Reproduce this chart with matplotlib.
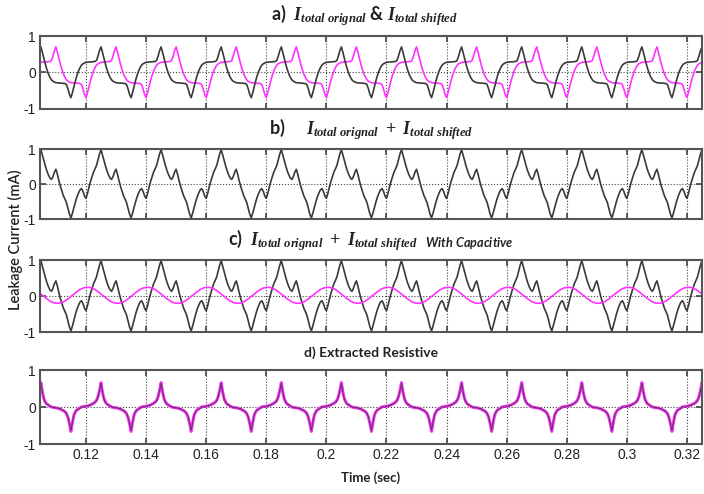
import numpy as np
import matplotlib
matplotlib.use('Agg')
import matplotlib.pyplot as plt

# one 20 ms period of each waveform, sampled every 0.5 ms,
# starting at the negative spike of the original current (t = 0.115 s)
STEP = 0.0005
T_START = 0.095
PERIODS = 12
SHIFT_SAMPLES = 10   # 5 ms shift of the second current

i_orig = [-0.69, -0.55, -0.38, -0.22, -0.08, 0.04, 0.13, 0.20, 0.24, 0.26,
          0.28, 0.28, 0.29, 0.29, 0.29, 0.30, 0.30, 0.33, 0.45, 0.60,
          0.70, 0.55, 0.38, 0.22, 0.08, -0.04, -0.13, -0.20, -0.24, -0.26,
          -0.28, -0.28, -0.29, -0.29, -0.29, -0.30, -0.30, -0.33, -0.45, -0.60]

i_cap = [-0.01, 0.02, 0.05, 0.09, 0.12, 0.15, 0.18, 0.20, 0.22, 0.23,
         0.24, 0.24, 0.24, 0.23, 0.22, 0.20, 0.18, 0.15, 0.12, 0.09,
         0.05, 0.02, -0.01, -0.05, -0.08, -0.11, -0.14, -0.16, -0.18, -0.19,
         -0.20, -0.20, -0.20, -0.19, -0.18, -0.16, -0.14, -0.11, -0.08, -0.05]

i_res = [-0.66, -0.42, -0.22, -0.13, -0.08, -0.05, -0.02, 0.00, 0.01, 0.02,
         0.02, 0.03, 0.04, 0.06, 0.08, 0.10, 0.13, 0.18, 0.28, 0.45,
         0.66, 0.40, 0.22, 0.13, 0.08, 0.05, 0.02, 0.00, -0.01, -0.02,
         -0.02, -0.03, -0.04, -0.06, -0.08, -0.10, -0.13, -0.18, -0.28, -0.45]

i_res_black = [-0.64, -0.40, -0.20, -0.12, -0.07, -0.06, -0.04, 0.01, 0.00, -0.01,
               0.03, 0.02, 0.05, 0.04, 0.08, 0.09, 0.13, 0.17, 0.27, 0.44,
               0.64, 0.40, 0.21, 0.12, 0.07, 0.06, 0.03, 0.01, -0.02, 0.00,
               -0.03, -0.02, -0.05, -0.04, -0.08, -0.09, -0.13, -0.17, -0.27, -0.44]

x_ticks = [0.12, 0.14, 0.16, 0.18, 0.2, 0.22, 0.24, 0.26, 0.28, 0.3, 0.32]
x_tick_labels = ['0.12', '0.14', '0.16', '0.18', '0.2', '0.22', '0.24', '0.26', '0.28', '0.3', '0.32']
y_ticks = [-1, 0, 1]
y_tick_labels = ['-1', '0', '1']

BLACK = '#3a3a3a'
MAGENTA = '#ff33ff'

plt.rcParams['mathtext.fontset'] = 'custom'
plt.rcParams['mathtext.it'] = 'Liberation Serif:bold:italic'
plt.rcParams['mathtext.rm'] = 'Liberation Serif:bold'
plt.rcParams['mathtext.sf'] = 'Lato:bold:italic'

t = T_START + STEP * np.arange(len(i_orig) * PERIODS)
orig = np.tile(i_orig, PERIODS)
shifted = np.roll(orig, SHIFT_SAMPLES)
total = orig + shifted
cap = np.tile(i_cap, PERIODS)
res = np.tile(i_res, PERIODS)
res_black = np.tile(i_res_black, PERIODS)

fig = plt.figure(figsize=(7.04, 4.94), dpi=100)

left, width = 40 / 704, 662 / 704
boxes = [(36, 109), (149, 219), (260, 332), (370, 444)]
axes = []
for top, bottom in boxes:
    ax = fig.add_axes([left, 1 - bottom / 494, width, (bottom - top) / 494])
    ax.set_xlim(0.1047, 0.325)
    ax.set_ylim(-1, 1)
    ax.set_xticks(x_ticks)
    ax.set_yticks(y_ticks)
    ax.set_yticklabels(y_tick_labels, family='Liberation Sans', fontsize=10)
    ax.grid(True, linestyle=':', color='#444444', linewidth=0.8)
    ax.tick_params(direction='in', top=True, right=True, length=4, width=1.2, colors='#444444',
                   labelcolor='#222222', pad=3)
    for s in ax.spines.values():
        s.set_color('#555555')
        s.set_linewidth(1.5)
    axes.append(ax)

for ax in axes[:3]:
    ax.set_xticklabels([])
axes[3].set_xticklabels(x_tick_labels, family='Liberation Sans', fontsize=10)

a, b, c, d = axes
a.plot(t, shifted, color=MAGENTA, lw=1.2)
a.plot(t, orig, color=BLACK, lw=1.2)
b.plot(t, total, color=BLACK, lw=1.2)
c.plot(t, total, color=BLACK, lw=1.2)
c.plot(t, cap, color=MAGENTA, lw=1.2)
d.plot(t, res, color=MAGENTA, lw=2.2)
d.plot(t, res_black, color=BLACK, lw=0.8, alpha=0.8)

cx = (40 + 331) / 704
tfont = dict(family='Lato', fontweight='bold', color='#222222', ha='center', va='center')
fig.text(cx - 0.01, 1 - 15 / 494, r'a)  $I_{total\ orignal}$ & $I_{total\ shifted}$', fontsize=13, **tfont)
fig.text(cx, 1 - 129 / 494, r'b)     $I_{total\ orignal}\ +\ I_{total\ shifted}$', fontsize=13, **tfont)
fig.text(cx, 1 - 240 / 494,
         r'c)  $I_{total\ orignal}\ +\ I_{total\ shifted}\ \ {}_{\mathsf{With\ Capacitive}}$',
         fontsize=13, **tfont)
fig.text(cx, 1 - 353 / 494, 'd) Extracted Resistive', fontsize=10, **tfont)

fig.text(cx, 1 - 478 / 494, 'Time (sec)', fontsize=9.5, **tfont)
fig.text(15 / 704, 1 - 240 / 494, 'Leakage Current (mA)', fontsize=10.5, rotation=90,
         family='Lato', fontweight='semibold', color='#222222', ha='center', va='center')

fig.savefig('out.png', dpi=100)
